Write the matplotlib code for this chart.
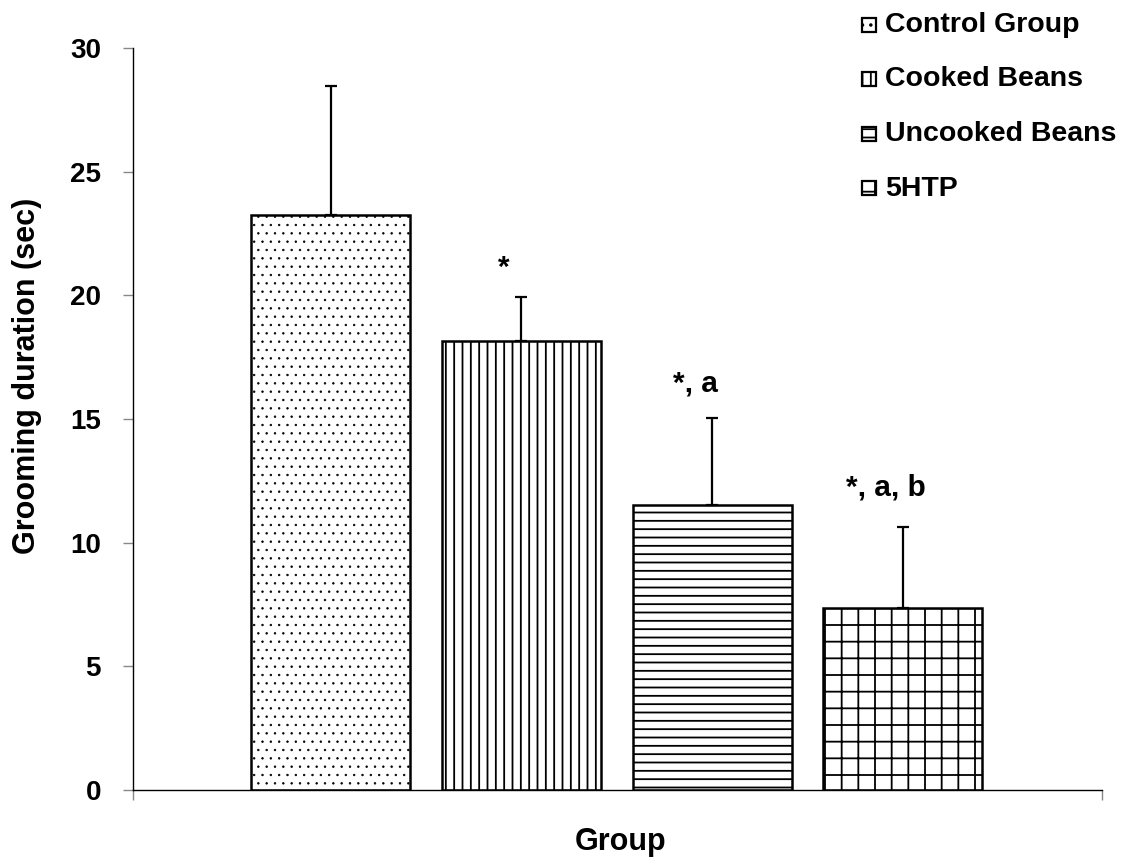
import matplotlib
matplotlib.use("Agg")
import matplotlib.pyplot as plt
from matplotlib.patches import Rectangle

plt.rcParams['font.family'] = ['Liberation Sans', 'DejaVu Sans']
plt.rcParams['font.weight'] = 'bold'
plt.rcParams['hatch.linewidth'] = 1.3
plt.rcParams['hatch.color'] = 'black'

groups = ["Control Group", "Cooked Beans", "Uncooked Beans", "5HTP"]
means = [23.25, 18.16, 11.52, 7.36]
errors = [5.22, 1.78, 3.52, 3.27]
annotations = ["", "*", "*, a", "*, a, b"]
annot_y = [0, 20.8, 16.1, 11.9]
hatches = ["..", "||", "--", "+"]
hatch_lw = [0.5, 1.3, 1.3, 1.3]
yticks = [0, 5, 10, 15, 20, 25, 30]

fig = plt.figure(figsize=(11.23, 8.63), dpi=100)
ax = fig.add_axes([133/1123, 1-790/863, (1102-133)/1123, (790-48)/863])

xs = list(range(len(groups)))
for x, m, e, h, hl in zip(xs, means, errors, hatches, hatch_lw):
    with plt.rc_context({'hatch.linewidth': hl}):
        bars = ax.bar(x, m, width=0.833, facecolor='white', edgecolor='black',
                      linewidth=1.8, hatch=h, zorder=2)
        for b in bars:
            if hasattr(b, 'set_hatch_linewidth'):
                b.set_hatch_linewidth(hl)
    ax.errorbar(x, m, yerr=[[0], [e]], fmt='none', ecolor='black',
                elinewidth=1.6, capsize=4, capthick=1.6, zorder=3)

for x, t, ty in zip(xs, annotations, annot_y):
    if t:
        ax.text(x - 0.09, ty, t, ha='center', va='baseline',
                fontsize=21.5, fontweight='bold')

ax.set_xlim(-1.035, 4.043)
ax.set_ylim(0, 30)
ax.set_yticks(yticks)
ax.set_yticklabels([str(v) for v in yticks], fontsize=20, fontweight='bold')
ax.set_xticks([-1.035, 4.043])
ax.set_xticklabels(['', ''])
ax.tick_params(axis='y', direction='out', length=7, width=1, color='#888888', pad=16)
ax.tick_params(axis='x', direction='out', length=7, width=1, color='#888888')
for s in ['top', 'right']:
    ax.spines[s].set_visible(False)
ax.spines['left'].set_linewidth(1)
ax.spines['bottom'].set_linewidth(1)

fig.text(27/1123, 1-376/863, "Grooming duration (sec)", rotation=90,
         ha='center', va='center', fontsize=22, fontweight='bold')
fig.text(621/1123, 1-842/863, "Group", ha='center', va='center',
         fontsize=22, fontweight='bold')

# legend
for i, (g, h) in enumerate(zip(groups, hatches)):
    yc = 25 + 54.5*i
    sq = 14
    fig.add_artist(Rectangle((862/1123, 1-(yc+sq/2)/863), sq/1123, sq/863,
                             transform=fig.transFigure, facecolor='white',
                             edgecolor='black', linewidth=1.6, hatch=h))
    fig.text(885/1123, 1-yc/863, g, ha='left', va='center',
             fontsize=20.5, fontweight='bold')

fig.savefig("out.png", dpi=100)
